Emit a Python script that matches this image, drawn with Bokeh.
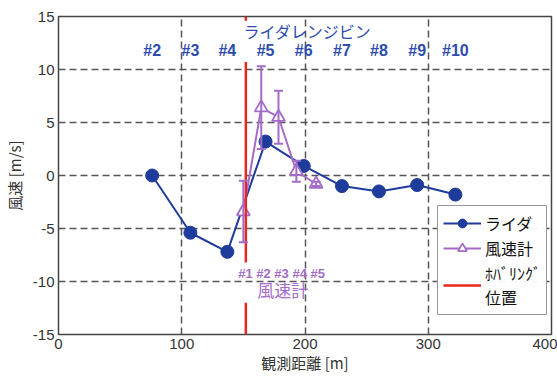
from bokeh.plotting import figure
from bokeh.models import (ColumnDataSource, Whisker, TeeHead, Label, Legend,
                          LegendItem, FixedTicker, Range1d, PrintfTickFormatter)
from bokeh.embed import file_html
from bokeh.resources import INLINE
from bokeh.core.properties import value

# ---- data ----
lidar_range = [76, 107, 137, 168, 199, 230, 260, 291, 322]
lidar_speed = [0.0, -5.4, -7.2, 3.2, 0.9, -1.0, -1.5, -0.9, -1.8]
lidar_bins = ["#2", "#3", "#4", "#5", "#6", "#7", "#8", "#9", "#10"]

anem_range = [150, 164.5, 178.5, 193, 209]
anem_speed = [-3.4, 6.4, 5.5, 0.4, -0.8]
anem_err = [2.9, 3.9, 2.5, 1.0, 0.2]
anem_label = "#1 #2 #3 #4 #5"

hover_range = 152

x_ticks = [0, 100, 200, 300, 400]
y_ticks = [-15, -10, -5, 0, 5, 10, 15]

# text anchor heights (data units)
title_y = 13.6
bin_y = 11.8
anem_lbl_y = -9.2
anem_name_y = -10.8

BLUE = "#1f3c9c"
TXT_BLUE = "#2d4cae"
PURPLE = "#a46cc8"
RED = "#e8281e"
JP = "Noto Sans CJK JP"
NUM = "Liberation Sans"

p = figure(width=557, height=380, x_range=Range1d(0, 400), y_range=Range1d(-15, 15),
           output_backend="svg", toolbar_location=None,
           min_border_left=58, min_border_top=16, min_border_right=6, min_border_bottom=46)

p.background_fill_color = "white"
p.border_fill_color = "white"
p.outline_line_color = "#444444"
p.outline_line_width = 1.5

for ax in (p.xaxis[0], p.yaxis[0]):
    ax.axis_line_color = None
    ax.major_tick_line_color = None
    ax.minor_tick_line_color = None
    ax.major_tick_out = 0
    ax.major_tick_in = 0
    ax.major_label_text_font = NUM
    ax.major_label_text_font_size = "15px"
    ax.major_label_text_color = "#333333"
    ax.axis_label_text_font = JP
    ax.axis_label_text_font_size = "15px"
    ax.axis_label_text_font_style = "normal"
    ax.axis_label_text_color = "#333333"
    ax.major_label_standoff = 4
    ax.axis_label_standoff = 0
    ax.formatter = PrintfTickFormatter(format="%d")

p.yaxis[0].axis_label_standoff = 5
p.xaxis.ticker = FixedTicker(ticks=x_ticks)
p.yaxis.ticker = FixedTicker(ticks=y_ticks)
p.xaxis.axis_label = "観測距離 [m]"
p.yaxis.axis_label = "風速 [m/s]"

for g in (p.xgrid[0], p.ygrid[0]):
    g.grid_line_color = "#555555"
    g.grid_line_dash = "7 4"
    g.grid_line_width = 1.5

# lidar
lsrc = ColumnDataSource(dict(x=lidar_range, y=lidar_speed))
l_line = p.line("x", "y", source=lsrc, line_color=BLUE, line_width=2)
l_pts = p.scatter("x", "y", source=lsrc, marker="circle", size=13,
                  fill_color=BLUE, line_color=BLUE)

# anemometer
asrc = ColumnDataSource(dict(
    x=anem_range, y=anem_speed,
    upper=[s + e for s, e in zip(anem_speed, anem_err)],
    lower=[s - e for s, e in zip(anem_speed, anem_err)]))
wh = Whisker(base="x", upper="upper", lower="lower", source=asrc,
             line_color=PURPLE, line_width=2,
             upper_head=TeeHead(size=9, line_color=PURPLE, line_width=2),
             lower_head=TeeHead(size=9, line_color=PURPLE, line_width=2))
wh.level = "glyph"
p.add_layout(wh)
a_line = p.line("x", "y", source=asrc, line_color=PURPLE, line_width=2)
a_pts = p.scatter("x", "y", source=asrc, marker="triangle", size=13,
                  fill_color="white", line_color=PURPLE, line_width=1.8)

# hovering position (red) with gaps under the text blocks
red_src = ColumnDataSource(dict(
    x0=[hover_range] * 3, x1=[hover_range] * 3,
    y0=[title_y + 1.0, anem_lbl_y + 1.0, -15],
    y1=[15, bin_y - 1.1, anem_name_y - 1.2]))
r_line = p.segment("x0", "y0", "x1", "y1", source=red_src, line_color=RED, line_width=2.5)

# texts
bsrc = ColumnDataSource(dict(x=lidar_range, y=[bin_y] * len(lidar_range), t=lidar_bins))
p.text("x", "y", text="t", source=bsrc, text_align="center", text_baseline="middle",
       text_font=value(NUM), text_font_size="16px", text_font_style="bold",
       text_color=TXT_BLUE)

p.add_layout(Label(x=202, y=title_y, text="ライダレンジビン", text_align="center",
                   text_baseline="middle", text_font=JP, text_font_size="16px",
                   text_color=TXT_BLUE))
p.add_layout(Label(x=181, y=anem_lbl_y, text=anem_label, text_align="center",
                   text_baseline="middle", text_font=NUM, text_font_size="13px",
                   text_font_style="bold", text_color=PURPLE))
p.add_layout(Label(x=182, y=anem_name_y, text="風速計", text_align="center",
                   text_baseline="middle", text_font=JP, text_font_size="17px",
                   text_color=PURPLE))

legend = Legend(items=[
    LegendItem(label="ライダ", renderers=[l_line, l_pts]),
    LegendItem(label="風速計", renderers=[a_line, a_pts]),
    LegendItem(label="ﾎﾊﾞﾘﾝｸﾞ\n位置", renderers=[r_line]),
], location=(379, 19))
legend.label_text_font = JP
legend.label_text_font_size = "16px"
legend.label_text_color = "#111111"
legend.border_line_color = "#333333"
legend.border_line_width = 1.5
legend.glyph_width = 38
legend.glyph_height = 22
legend.padding = 5
legend.spacing = 1
legend.margin = 0
legend.label_standoff = 4
p.add_layout(legend)

open("out.html", "w").write(file_html(p, INLINE))
